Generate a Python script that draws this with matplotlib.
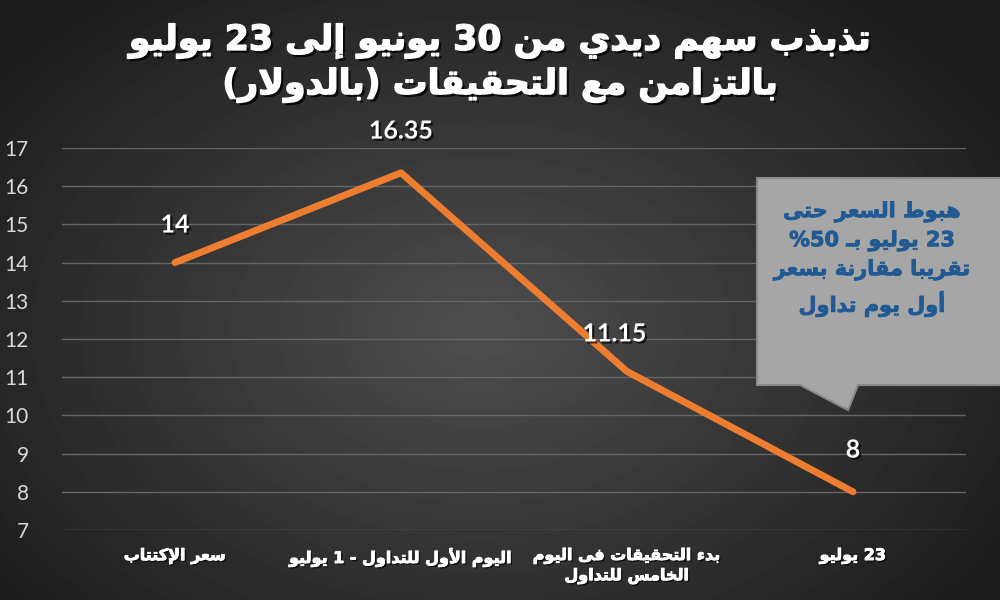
import numpy as np
import matplotlib
matplotlib.use("Agg")
from matplotlib import pyplot as plt
from matplotlib import patheffects as pe
from matplotlib.patches import Polygon

# data
categories = ["سعر الإكتتاب", "اليوم الأول للتداول - 1 يوليو",
              "بدء التحقيقات فى اليوم\nالخامس للتداول", "23 يوليو"]
prices = [14, 16.35, 11.15, 8]
price_labels = ["14", "16.35", "11.15", "8"]
title_text = "تذبذب سهم ديدي من 30 يونيو إلى 23 يوليو\nبالتزامن مع التحقيقات (بالدولار)"
note_text = "هبوط السعر حتى\n23 يوليو بـ %50\nتقريبا مقارنة بسعر\nأول يوم تداول"
y_ticks = list(range(7, 18))

# --- minimal arabic shaping (matplotlib has no bidi / joining support) ---
# char: (first presentation form code, number of forms)
FORMS = {
    'ء': (0xFE80, 1), 'آ': (0xFE81, 2), 'أ': (0xFE83, 2), 'إ': (0xFE87, 2),
    'ا': (0xFE8D, 2), 'ب': (0xFE8F, 4), 'ة': (0xFE93, 2), 'ت': (0xFE95, 4),
    'ث': (0xFE99, 4), 'ج': (0xFE9D, 4), 'ح': (0xFEA1, 4), 'خ': (0xFEA5, 4),
    'د': (0xFEA9, 2), 'ذ': (0xFEAB, 2), 'ر': (0xFEAD, 2), 'ز': (0xFEAF, 2),
    'س': (0xFEB1, 4), 'ش': (0xFEB5, 4), 'ص': (0xFEB9, 4), 'ض': (0xFEBD, 4),
    'ط': (0xFEC1, 4), 'ظ': (0xFEC5, 4), 'ع': (0xFEC9, 4), 'غ': (0xFECD, 4),
    'ف': (0xFED1, 4), 'ق': (0xFED5, 4), 'ك': (0xFED9, 4), 'ل': (0xFEDD, 4),
    'م': (0xFEE1, 4), 'ن': (0xFEE5, 4), 'ه': (0xFEE9, 4), 'و': (0xFEED, 2),
    'ى': (0xFEEF, 2), 'ي': (0xFEF1, 4),
}
LAM_ALEF = {'آ': 0xFEF5, 'أ': 0xFEF7, 'إ': 0xFEF9, 'ا': 0xFEFB}
TATWEEL = 'ـ'
MIRROR = {'(': ')', ')': '('}


def joins_prev(c):
    return c == TATWEEL or (c in FORMS and FORMS[c][1] > 1)


def join_word(word):
    out = []
    link = False
    i = 0
    while i < len(word):
        c = word[i]
        nxt = word[i + 1] if i + 1 < len(word) else None
        if c == 'ل' and nxt in LAM_ALEF:
            out.append(chr(LAM_ALEF[nxt] + (1 if link else 0)))
            link = False
            i += 2
            continue
        if c in FORMS:
            base, k = FORMS[c]
            to_prev = link and k > 1
            to_next = k == 4 and nxt is not None and joins_prev(nxt)
            if k == 4:
                idx = {(False, False): 0, (True, False): 1,
                       (False, True): 2, (True, True): 3}[(to_prev, to_next)]
            elif k == 2:
                idx = 1 if to_prev else 0
            else:
                idx = 0
            out.append(chr(base + idx))
            link = k == 4
        elif c == TATWEEL:
            out.append(c)
            link = True
        else:
            out.append(c)
            link = False
        i += 1
    return ''.join(out)


def ar(text):
    lines = []
    for line in text.split('\n'):
        toks = []
        for tok in reversed(line.split(' ')):
            if any(ch in FORMS or ch == TATWEEL for ch in tok):
                tok = ''.join(MIRROR.get(ch, ch) for ch in join_word(tok)[::-1])
            toks.append(tok)
        lines.append(' '.join(toks))
    return '\n'.join(lines)


AR_FONT = ['DejaVu Sans']
NUM_FONT = ['Lato', 'DejaVu Sans']
shadow = [pe.withSimplePatchShadow(offset=(1.5, -1.5), shadow_rgbFace='black', alpha=0.7)]
heavy = [pe.withSimplePatchShadow(offset=(2, -2), shadow_rgbFace='black', alpha=0.8),
         pe.withStroke(linewidth=1.0, foreground='white')]

fig = plt.figure(figsize=(10, 6), dpi=100)

# radial gradient background
bg = fig.add_axes([0, 0, 1, 1])
yy, xx = np.mgrid[0:600, 0:1000]
r = np.sqrt(((xx - 480) / 620.0) ** 2 + ((yy - 330) / 430.0) ** 2)
shade = (0x4e - (0x4e - 0x1c) * np.clip(r, 0, 1)) / 255.0
bg.imshow(shade, cmap='gray', vmin=0, vmax=1, aspect='auto', interpolation='bilinear')
bg.set_axis_off()

ax = fig.add_axes([0.062, 0.1167, 0.904, 0.6367])
ax.set_facecolor('none')
x = np.arange(len(categories))
ax.plot(x, prices, color='#ed7d31', lw=5, solid_capstyle='round', solid_joinstyle='round', zorder=3)
ax.set_xlim(-0.5, len(categories) - 0.5)
ax.set_ylim(7, 17)
ax.set_yticks(y_ticks)
ax.set_yticklabels([str(t) for t in y_ticks], color='#d9d9d9', fontsize=15, family=NUM_FONT)
for t in y_ticks:
    ax.axhline(t, color='#666666', lw=1, zorder=1)
ax.tick_params(axis='y', length=0, pad=24)
ax.tick_params(axis='x', length=0, pad=13)
ax.set_xticks(x)
ax.set_xticklabels([ar(c) for c in categories], color='white', fontsize=11.5,
                   fontweight='bold', family=AR_FONT, linespacing=1.35, va='top')
for lbl in ax.get_xticklabels():
    lbl.set_path_effects([pe.withSimplePatchShadow(offset=(1.2, -1.2), shadow_rgbFace='black', alpha=0.7),
                          pe.withStroke(linewidth=0.6, foreground='white')])
for s in ax.spines.values():
    s.set_visible(False)

offsets = [(0, 27), (0, 30), (-9, 27), (0, 30)]
for xi, yi, lab, off in zip(x, prices, price_labels, offsets):
    ax.annotate(lab, (xi, yi), xytext=off, textcoords='offset points', ha='center', va='center',
                color='white', fontsize=18, fontweight='bold', family=NUM_FONT, path_effects=shadow)

fig.text(0.5, 0.895, ar(title_text), ha='center', va='center', color='white', fontsize=25,
         fontweight='bold', family=AR_FONT, linespacing=1.3, path_effects=heavy)

# callout box (pixel coords -> figure fraction)
W, H = 1000.0, 600.0
pts = [(757, 178), (1003, 178), (1003, 385), (858, 385), (848, 410), (800, 385), (757, 385)]
call = Polygon([(px / W, 1 - py / H) for px, py in pts], closed=True, transform=fig.transFigure,
               facecolor='#a6a6a6', edgecolor='#8a8a8a', lw=1.5, zorder=5,
               path_effects=[pe.withSimplePatchShadow(offset=(2, -2), alpha=0.5)])
fig.add_artist(call)
fig.text(0.872, 1 - 259 / H, ar(note_text), ha='center', va='center', color='#215a93', fontsize=15,
         fontweight='bold', family=AR_FONT, linespacing=1.5, zorder=6,
         path_effects=[pe.withStroke(linewidth=0.6, foreground='#215a93')])

fig.savefig('out.png', dpi=100)
